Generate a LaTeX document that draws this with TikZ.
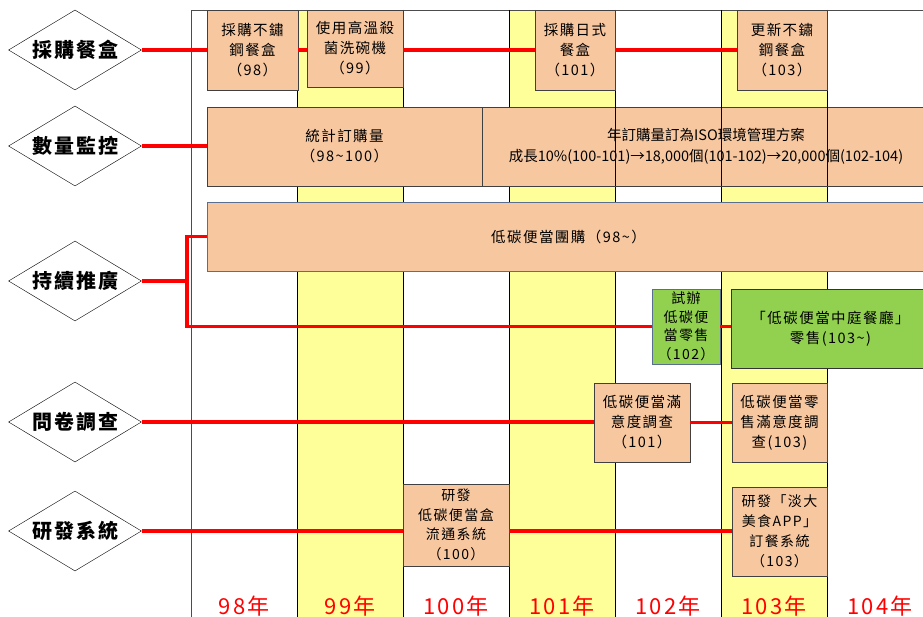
\documentclass[tikz,border=0pt]{standalone}
\usepackage{fontspec}
\setmainfont{Noto Sans CJK TC}[LetterSpace=10]
\newfontfamily\tightfont{Noto Sans CJK TC}
\usepackage{tikz}
\usetikzlibrary{shapes.geometric}
\definecolor{peach}{RGB}{247,199,160}
\definecolor{lemon}{RGB}{255,255,153}
\definecolor{leaf}{RGB}{146,208,80}
\definecolor{slate}{RGB}{90,110,145}

\begin{document}
\begin{tikzpicture}[
                    x=1pt, y=-1pt,
                    topic style/.style={
                        diamond,
                        aspect=1.66,
                        draw=black,
                        thin,
                        fill=white,
                        minimum width=133pt,
                        minimum height=80pt,
                        inner sep=0pt,
                        font=\bfseries\fontsize{20}{24}\selectfont
                    },
                    task style/.style={
                        rectangle,
                        draw=black!75,
                        fill=peach,
                        align=center,
                        inner sep=0pt,
                        font=\fontsize{14.5}{20}\selectfont
                    },
                    retail style/.style={task style, fill=leaf},
                    link style/.style={draw=red, line width=3.5pt},
                    column line/.style={draw=black, line width=1pt},
                    year style/.style={text=red, font=\fontsize{22}{24}\selectfont}
                ]
                    \useasboundingbox (0,0) rectangle (923,617);
                    \fill[lemon] (297.5,10) rectangle (403,617);
                    \fill[lemon] (509,10) rectangle (615,617);
                    \fill[lemon] (721,10) rectangle (827,617);
                    \draw[black!70, thin] (191,617) -- (191,10) -- (923,10);
                    \foreach \cx in {297.5,403,509,615,721,827}
                        \draw[column line] (\cx,10) -- (\cx,617);

                    \node[topic style] (meal) at (75,50) {採購餐盒};
                    \node[topic style] (count) at (75,146) {數量監控};
                    \node[topic style] (promo) at (75,281) {持續推廣};
                    \node[topic style] (survey) at (75,422) {問卷調查};
                    \node[topic style] (system) at (75,531) {研發系統};

                    \node[task style, minimum width=91pt, minimum height=80pt] (steelA) at (252.5,50) {採購不鏽\\鋼餐盒\\（98）};
                    \node[task style, minimum width=96pt, minimum height=77pt] (washer) at (355,48.5) {使用高溫殺\\菌洗碗機\\（99）};
                    \node[task style, minimum width=80pt, minimum height=80pt] (bento) at (575,50) {採購日式\\餐盒\\（101）};
                    \node[task style, minimum width=90pt, minimum height=80pt] (steelB) at (782,50) {更新不鏽\\鋼餐盒\\（103）};

                    \node[task style, minimum width=275pt, minimum height=79pt] (stat) at (344.5,146.5) {統計訂購量\\（98\textasciitilde100）};
                    \node[task style, minimum width=448pt, minimum height=79pt, font=\tightfont\fontsize{14.5}{21}\selectfont] (goal) at (706,146.5) {年訂購量訂為ISO環境管理方案\\成長10\%(100-101)→18,000個(101-102)→20,000個(102-104)};
                    \foreach \cx in {615,721,827}
                        \draw[column line] (\cx,0 |- goal.north) -- (\cx,0 |- goal.south);

                    \node[task style, draw=slate, minimum width=723pt, minimum height=69pt] (group) at (568.5,236.5) {低碳便當團購（98\textasciitilde）};
                    \node[retail style, draw=slate, minimum width=68pt, minimum height=75pt, font=\fontsize{14}{18.5}\selectfont] (trial) at (686,326.5) {試辦\\低碳便\\當零售\\（102）};
                    \node[retail style, draw=black!80, minimum width=199pt, minimum height=79pt] (court) at (830.5,328.5) {「低碳便當中庭餐廳」\\零售(103\textasciitilde)};

                    \node[task style, minimum width=96pt, minimum height=79pt] (satA) at (642,422.5) {低碳便當滿\\意度調查\\（101）};
                    \node[task style, minimum width=95pt, minimum height=79pt] (satB) at (779.5,422.5) {低碳便當零\\售滿意度調\\查(103)};

                    \node[task style, minimum width=106pt, minimum height=82pt, font=\fontsize{14}{19.5}\selectfont] (flow) at (456,525) {研發\\低碳便當盒\\流通系統\\（100）};
                    \node[task style, minimum width=95pt, minimum height=89pt, font=\fontsize{14}{20}\selectfont] (app) at (779.5,531.5) {研發「淡大\\美食APP」\\訂餐系統\\（103）};

                    \draw[link style] (meal.east) -- (meal.east -| steelA.west);
                    \draw[link style] (steelA.east |- meal.east) -- (meal.east -| washer.west);
                    \draw[link style] (washer.east |- meal.east) -- (meal.east -| bento.west);
                    \draw[link style] (bento.east |- meal.east) -- (meal.east -| steelB.west);
                    \draw[link style] (count.east) -- (count.east -| stat.west);
                    \coordinate (fork) at (187,281);
                    \draw[link style] (promo.east) -- (fork);
                    \draw[link style] (group.west) -| (fork) |- (trial.west);
                    \draw[link style] (trial.east) -- (trial.east -| court.west);
                    \draw[link style] (survey.east) -- (survey.east -| satA.west);
                    \draw[link style] (satA.east) -- (satA.east -| satB.west);
                    \draw[link style] (system.east) -- (system.east -| flow.west);
                    \draw[link style] (flow.east |- system.east) -- (system.east -| app.west);

                    \foreach \yr [count=\i] in {98,99,100,101,102,103,104}
                        \node[year style] (year\yr) at (138+106*\i,606) {\yr 年};
                \end{tikzpicture}
\end{document}
